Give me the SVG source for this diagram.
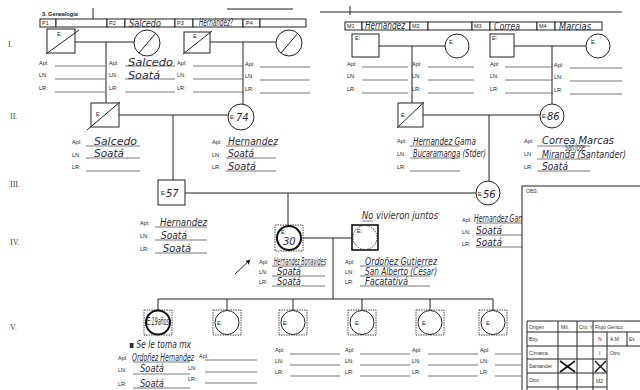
<svg xmlns="http://www.w3.org/2000/svg" width="640" height="390" viewBox="0 0 640 390">
<style>
.ln{stroke:#222;stroke-width:1;fill:none}
.sh{fill:#fff;stroke:#222;stroke-width:1}
.thk{fill:#fff;stroke:#111;stroke-width:2}
.ds{fill:none;stroke:#333;stroke-width:0.9;stroke-dasharray:1.5 1}
.fl{stroke:#555;stroke-width:0.8}
.lb{font-family:"Liberation Sans",Arial,sans-serif;font-size:5.5px;fill:#222}
.rn{font-family:"Liberation Serif","Times New Roman",serif;font-size:8px;fill:#444}
.hw{font-family:"DejaVu Sans",sans-serif;font-style:italic;font-size:10px;fill:#2b2b3a}
.tb{font-family:"Liberation Sans",Arial,sans-serif;font-size:5px;fill:#333}
</style>
<defs>
<marker id="ah" viewBox="0 0 6 6" refX="5" refY="3" markerWidth="5" markerHeight="5" orient="auto"><path d="M0,0 L6,3 L0,6 z" fill="#222"/></marker>
</defs>
<rect width="640" height="390" fill="#fff"/>

<!-- header -->
<g id="header">
<path class="ln" d="M93,8 V19"/>
<text class="lb" x="42" y="16" font-weight="bold">3. Genealogia</text>
<path class="ln" d="M227,9 H293 M320,12 H622 M350,6 V15" stroke-width="1.3"/>
<g class="sh">
<rect x="40" y="19" width="16" height="8"/><rect x="56" y="19" width="51" height="8"/>
<rect x="107" y="19" width="18" height="8"/><rect x="125" y="19" width="50" height="8"/>
<rect x="175" y="19" width="18" height="8"/><rect x="193" y="19" width="50" height="8"/>
<rect x="243" y="19" width="17" height="8"/><rect x="260" y="19" width="46" height="8"/>
<rect x="345" y="22" width="17" height="8"/><rect x="362" y="22" width="48" height="8"/>
<rect x="410" y="22" width="18" height="8"/><rect x="428" y="22" width="44" height="8"/>
<rect x="472" y="22" width="18" height="8"/><rect x="490" y="22" width="47" height="8"/>
<rect x="537" y="22" width="18" height="8"/><rect x="555" y="22" width="47" height="8"/>
</g>
<text class="lb" x="42" y="25">P1</text><text class="lb" x="109" y="25">P2</text>
<text class="lb" x="177" y="25">P3</text><text class="lb" x="246" y="25">P4</text>
<text class="lb" x="347" y="28">M1</text><text class="lb" x="412" y="28">M2</text>
<text class="lb" x="474" y="28">M3</text><text class="lb" x="539" y="28">M4</text>
<text class="hw" x="129" y="26.5" font-size="7" textLength="32" lengthAdjust="spacingAndGlyphs">Salcedo</text>
<text class="hw" x="199" y="26" font-size="5" textLength="34" lengthAdjust="spacingAndGlyphs">Hernández?</text>
<text class="hw" x="365" y="29" font-size="7" textLength="40" lengthAdjust="spacingAndGlyphs">Hernandez</text>
<text class="hw" x="494" y="29.5" font-size="7" textLength="26" lengthAdjust="spacingAndGlyphs">Correa</text>
<text class="hw" x="559" y="29.5" font-size="8" textLength="32" lengthAdjust="spacingAndGlyphs">Marcias</text>
</g>

<g id="roman">
<text class="rn" x="8" y="47">I.</text>
<text class="rn" x="10" y="119">II.</text>
<text class="rn" x="10" y="187">III.</text>
<text class="rn" x="10" y="245">IV.</text>
<text class="rn" x="10" y="330">V.</text>
</g>

<!-- connectors -->
<g id="connectors" class="ln">
<path d="M75,42 H134 M210,42 H276 M106,42 V103 M243,42 V104"/>
<path d="M379,46 H445 M514,46 H586 M412,46 V103 M552,46 V104"/>
<path d="M119,115 H228 M173,115 V180"/>
<path d="M423,115 H540 M489,115 V181"/>
<path d="M185,193 H476 M288,193 V225"/>
<path d="M303,238 H352 M333,238 V299"/>
<path d="M158,299 H493 M158,299 V310 M227,299 V310 M293,299 V310 M362,299 V310 M430,299 V310 M493,299 V310"/>
<path d="M235,274 L250,260" marker-end="url(#ah)"/>
</g>

<!-- Generation I -->
<g id="P1"><rect class="sh" x="47" y="29" width="28" height="24"/><path class="ln" d="M46,54 L79,30"/><text class="lb" x="57" y="36">E:</text></g>
<g id="P2"><circle class="sh" cx="147" cy="43" r="13"/><path class="ln" d="M139,53 L156,33"/></g>
<g id="P3"><rect class="sh" x="184" y="32" width="26" height="21"/><path class="ln" d="M183,54 L212,31"/><text class="lb" x="193" y="38">E:</text></g>
<g id="P4"><circle class="sh" cx="289" cy="43" r="13"/><path class="ln" d="M281,53 L298,33"/></g>
<g id="M1"><rect class="sh" x="352" y="34" width="27" height="23"/><text class="lb" x="355" y="40">E:</text></g>
<g id="M2"><circle class="sh" cx="457" cy="46" r="12"/><text class="lb" x="449" y="44">E:</text></g>
<g id="M3"><rect class="sh" x="490" y="34" width="24" height="23"/><text class="lb" x="492" y="40">E:</text></g>
<g id="M4"><circle class="sh" cx="598" cy="46" r="12"/><text class="lb" x="591" y="44">E:</text></g>

<g id="fields-I">
<g class="fl">
<path d="M55,66 H105 M55,79 H105 M55,92 H105"/>
<path d="M125,66 H175 M125,79 H175 M125,92 H175"/>
<path d="M193,66 H243 M193,79 H243 M193,92 H243"/>
<path d="M260,67 H310 M260,80 H310 M260,93 H310"/>
<path d="M362,67 H408 M362,80 H408 M362,93 H408"/>
<path d="M428,67 H474 M428,80 H474 M428,93 H474"/>
<path d="M505,67 H553 M505,80 H553 M505,93 H553"/>
<path d="M570,68 H622 M570,81 H622 M570,94 H622"/>
</g>
<text class="lb" x="39" y="65">Apl:</text><text class="lb" x="39" y="77">LN:</text><text class="lb" x="39" y="90">LR:</text>
<text class="lb" x="109" y="65">Apl:</text><text class="lb" x="109" y="77">LN:</text><text class="lb" x="109" y="90">LR:</text>
<text class="lb" x="177" y="65">Apl:</text><text class="lb" x="177" y="77">LN:</text><text class="lb" x="177" y="90">LR:</text>
<text class="lb" x="245" y="66">Apl:</text><text class="lb" x="245" y="78">LN:</text><text class="lb" x="245" y="91">LR:</text>
<text class="lb" x="347" y="66">Apl:</text><text class="lb" x="347" y="78">LN:</text><text class="lb" x="347" y="91">LR:</text>
<text class="lb" x="412" y="66">Apl:</text><text class="lb" x="412" y="78">LN:</text><text class="lb" x="412" y="91">LR:</text>
<text class="lb" x="490" y="66">Apl:</text><text class="lb" x="490" y="78">LN:</text><text class="lb" x="490" y="91">LR:</text>
<text class="lb" x="554" y="67">Apl:</text><text class="lb" x="554" y="79">LN:</text><text class="lb" x="554" y="92">LR:</text>
<text class="hw" x="128" y="66" font-size="12" textLength="45" lengthAdjust="spacingAndGlyphs">Salcedo</text>
<text class="hw" x="128" y="79" font-size="11" textLength="32" lengthAdjust="spacingAndGlyphs">Soatá</text>
</g>

<!-- Generation II -->
<g id="II-1"><rect class="sh" x="91" y="103" width="28" height="24"/><path class="ln" d="M87,130 L120,102"/><text class="lb" x="96" y="116">E:</text></g>
<g id="II-2"><circle class="sh" cx="241" cy="117" r="13"/><text class="lb" x="230" y="119">E:</text><text class="hw" x="236" y="121" font-size="10">74</text></g>
<g id="II-3"><rect class="sh" x="398" y="103" width="25" height="24"/><path class="ln" d="M397,128 L424,102"/><text class="lb" x="401" y="117">E:</text></g>
<g id="II-4"><circle class="sh" cx="552" cy="116" r="12"/><text class="lb" x="542" y="118">E:</text><text class="hw" x="547" y="120" font-size="10">86</text></g>

<g id="fields-II">
<g class="fl">
<path d="M86,146 H140 M86,158 H140 M86,171 H140"/>
<path d="M226,146 H276 M226,158 H276 M226,171 H276"/>
<path d="M410,146 H460 M410,158 H460 M410,171 H460"/>
<path d="M537,146 H590 M537,159 H590 M537,171 H590"/>
</g>
<text class="lb" x="72" y="144">Apl:</text><text class="lb" x="72" y="157">LN:</text><text class="lb" x="72" y="169">LR:</text>
<text class="lb" x="212" y="144">Apl:</text><text class="lb" x="212" y="157">LN:</text><text class="lb" x="212" y="169">LR:</text>
<text class="lb" x="397" y="143">Apl:</text><text class="lb" x="397" y="156">LN:</text><text class="lb" x="397" y="169">LR:</text>
<text class="lb" x="524" y="143">Apl:</text><text class="lb" x="524" y="156">LN:</text><text class="lb" x="524" y="169">LR:</text>
<text class="hw" x="94" y="145" font-size="12" textLength="43" lengthAdjust="spacingAndGlyphs">Salcedo</text>
<text class="hw" x="94" y="157" font-size="11" textLength="30" lengthAdjust="spacingAndGlyphs">Soatá</text>
<text class="hw" x="228" y="145" font-size="10" textLength="50" lengthAdjust="spacingAndGlyphs">Hernandez</text>
<text class="hw" x="228" y="157" font-size="10" textLength="26" lengthAdjust="spacingAndGlyphs">Soatá</text>
<text class="hw" x="228" y="170" font-size="11" textLength="28" lengthAdjust="spacingAndGlyphs">Soatá</text>
<text class="hw" x="413" y="145" font-size="8.5" textLength="63" lengthAdjust="spacingAndGlyphs">Hernandez Gama</text>
<text class="hw" x="413" y="157" font-size="7.5" textLength="73" lengthAdjust="spacingAndGlyphs">Bucaramanga (Stder)</text>
<text class="hw" x="542" y="144" font-size="9" textLength="72" lengthAdjust="spacingAndGlyphs">Correa  Marcas</text>
<text class="hw" x="565" y="150.5" font-size="5" textLength="20" lengthAdjust="spacingAndGlyphs">San José</text>
<text class="hw" x="542" y="158" font-size="8" textLength="84" lengthAdjust="spacingAndGlyphs">Miranda (Santander)</text>
<text class="hw" x="542" y="170" font-size="9" textLength="26" lengthAdjust="spacingAndGlyphs">Soatá</text>
</g>

<!-- Generation III -->
<g id="III-1"><rect class="sh" x="158" y="180" width="27" height="25"/><text class="lb" x="161" y="195">E:</text><text class="hw" x="166" y="197" font-size="10">57</text></g>
<g id="III-2"><circle class="sh" cx="488" cy="193" r="12"/><text class="lb" x="478" y="196">E:</text><text class="hw" x="483" y="198" font-size="10">56</text></g>

<g id="fields-III">
<g class="fl">
<path d="M155,227 H207 M155,240 H207 M155,253 H207"/>
<path d="M476,223 H523 M476,235 H523 M476,247 H523"/>
</g>
<text class="lb" x="140" y="225">Apl:</text><text class="lb" x="140" y="238">LN:</text><text class="lb" x="140" y="251">LR:</text>
<text class="lb" x="462" y="222">Apl:</text><text class="lb" x="462" y="234">LN:</text><text class="lb" x="462" y="246">LR:</text>
<text class="hw" x="160" y="226" font-size="9.5" textLength="47" lengthAdjust="spacingAndGlyphs">Hernandez</text>
<text class="hw" x="161" y="239" font-size="9.5" textLength="26" lengthAdjust="spacingAndGlyphs">Soatá</text>
<text class="hw" x="163" y="252" font-size="9.5" textLength="28" lengthAdjust="spacingAndGlyphs">Soatá</text>
<text class="hw" x="474" y="222" font-size="7" textLength="54" lengthAdjust="spacingAndGlyphs">Hernandez Gama</text>
<text class="hw" x="476" y="234" font-size="9" textLength="26" lengthAdjust="spacingAndGlyphs">Soatá</text>
<text class="hw" x="476" y="246" font-size="9" textLength="26" lengthAdjust="spacingAndGlyphs">Soatá</text>
</g>

<!-- OBS -->
<g id="obs">
<rect class="sh" x="522" y="186" width="130" height="210"/>
<text class="tb" x="526" y="193">OBS:</text>
</g>

<!-- Generation IV -->
<g id="IV-1"><rect class="ds" x="275" y="225" width="28" height="26"/><circle class="thk" cx="289" cy="238" r="12"/><text class="lb" x="281" y="234" font-size="4.5">E:</text><text class="hw" x="283" y="245" font-size="9">30</text></g>
<g id="IV-2"><rect fill="#fff" stroke="#111" stroke-width="1.6" x="352" y="225" width="26" height="25"/><circle class="ds" cx="365" cy="237.5" r="12"/><text class="lb" x="357" y="233">E:</text></g>
<text class="hw" x="362" y="219" font-size="7.5" textLength="76" lengthAdjust="spacingAndGlyphs">No vivieron juntos</text>
<path class="fl" d="M362,221 H373"/>

<g id="fields-IV">
<g class="fl">
<path d="M272,266 H325 M272,276 H325 M272,286 H325"/>
<path d="M360,266 H430 M360,276 H430 M360,286 H430"/>
</g>
<text class="lb" x="259" y="264">Apl:</text><text class="lb" x="259" y="274">LN:</text><text class="lb" x="259" y="284">LR:</text>
<text class="lb" x="345" y="264">Apl:</text><text class="lb" x="345" y="274">LN:</text><text class="lb" x="345" y="284">LR:</text>
<text class="hw" x="274" y="265" font-size="4.5" textLength="52" lengthAdjust="spacingAndGlyphs">Hernandez Bonavides</text>
<text class="hw" x="277" y="275" font-size="9" textLength="24" lengthAdjust="spacingAndGlyphs">Soatá</text>
<text class="hw" x="277" y="285" font-size="9" textLength="24" lengthAdjust="spacingAndGlyphs">Soatá</text>
<text class="hw" x="365" y="265" font-size="9" textLength="72" lengthAdjust="spacingAndGlyphs">Ordoñez Gutierrez</text>
<text class="hw" x="365" y="275" font-size="9" textLength="72" lengthAdjust="spacingAndGlyphs">San Alberto (César)</text>
<text class="hw" x="365" y="285" font-size="8" textLength="43" lengthAdjust="spacingAndGlyphs">Facatativá</text>
</g>

<!-- Generation V -->
<g id="V-1"><rect class="ds" x="144" y="310" width="28" height="25"/><circle class="thk" cx="158" cy="322.5" r="12"/><text class="hw" x="147" y="325" font-size="5" textLength="22" lengthAdjust="spacingAndGlyphs">E:19años</text></g>
<g id="V-2"><rect class="ds" x="213" y="310" width="28" height="25"/><circle class="sh" cx="227" cy="322.5" r="12"/><text class="lb" x="217" y="325">E:</text></g>
<g id="V-3"><rect class="ds" x="279" y="310" width="28" height="25"/><circle class="sh" cx="293" cy="322.5" r="12"/><text class="lb" x="283" y="325">E:</text></g>
<g id="V-4"><rect class="ds" x="348" y="310" width="28" height="25"/><circle class="sh" cx="362" cy="322.5" r="12"/><text class="lb" x="355" y="325">E:</text></g>
<g id="V-5"><rect class="ds" x="416" y="310" width="28" height="25"/><circle class="sh" cx="430" cy="322.5" r="12"/><text class="lb" x="422" y="325">E:</text></g>
<g id="V-6"><rect class="ds" x="479" y="310" width="28" height="25"/><circle class="sh" cx="493" cy="322.5" r="12"/><text class="lb" x="486" y="325">E:</text></g>

<g id="fields-V">
<g class="fl">
<path d="M133,362 H190 M133,374 H190 M133,388 H190"/>
<path d="M205,360 H257 M205,372 H257 M205,383 H257"/>
<path d="M290,354 H340 M290,365 H340 M290,376 H340"/>
<path d="M360,354 H410 M360,365 H410 M360,376 H410"/>
<path d="M428,354 H478 M428,365 H478 M428,376 H478"/>
<path d="M495,354 H521 M495,365 H521 M495,376 H521"/>
</g>
<text class="hw" x="129" y="348" font-size="7.5" textLength="62" lengthAdjust="spacingAndGlyphs">▪ Se le toma mx</text>
<text class="lb" x="118" y="360">Apl:</text><text class="lb" x="118" y="372">LN:</text><text class="lb" x="118" y="386">LR:</text>
<text class="lb" x="199" y="358">Apl:</text><text class="lb" x="188" y="370">LN:</text><text class="lb" x="188" y="381">LR:</text>
<text class="lb" x="275" y="352">Apl:</text><text class="lb" x="275" y="363">LN:</text><text class="lb" x="275" y="374">LR:</text>
<text class="lb" x="345" y="352">Apl:</text><text class="lb" x="345" y="363">LN:</text><text class="lb" x="345" y="374">LR:</text>
<text class="lb" x="412" y="352">Apl:</text><text class="lb" x="412" y="363">LN:</text><text class="lb" x="412" y="374">LR:</text>
<text class="lb" x="480" y="352">Apl:</text><text class="lb" x="480" y="363">LN:</text><text class="lb" x="480" y="374">LR:</text>
<text class="hw" x="132" y="361" font-size="7.5" textLength="62" lengthAdjust="spacingAndGlyphs">Ordoñez Hernandez</text>
<text class="hw" x="140" y="372" font-size="10" textLength="24" lengthAdjust="spacingAndGlyphs">Soatá</text>
<text class="hw" x="140" y="387" font-size="10" textLength="24" lengthAdjust="spacingAndGlyphs">Soatá</text>
</g>

<!-- Table -->
<g id="table">
<rect fill="#fff" x="527" y="321" width="120" height="70"/>
<g class="ln" stroke-width="0.9">
<path d="M527,321 H640 M527,332 H640 M527,346 H640 M527,359 H607 M527,373 H607 M527,387 H607"/>
<path d="M527,321 V390 M558,321 V390 M577,321 V390 M593,321 V390 M607,332 V390 M627,332 V346"/>
</g>
<text class="tb" x="529" y="329">Origen</text>
<text class="tb" x="561" y="329">Mit.</text>
<text class="tb" x="579" y="329">Cro. Y</text>
<text class="tb" x="595" y="329">Flujo Génico</text>
<text class="tb" x="529" y="341">Boy.</text>
<text class="tb" x="529" y="355">C/marca.</text>
<text class="tb" x="529" y="368">Santander</text>
<text class="tb" x="529" y="382">Otro</text>
<text class="tb" x="598" y="341">N</text>
<text class="tb" x="610" y="341">A.M</text>
<text class="tb" x="629" y="341">Ex</text>
<text class="tb" x="599" y="355">I</text>
<text class="tb" x="610" y="355">Otro</text>
<text class="tb" x="596" y="383">M2</text>
<path d="M560,361 L575,372 M560,372 L575,361" stroke="#111" stroke-width="1.6" fill="none"/>
<path d="M595,361 L606,372 M595,372 L606,361" stroke="#111" stroke-width="1.4" fill="none"/>
</g>
</svg>
